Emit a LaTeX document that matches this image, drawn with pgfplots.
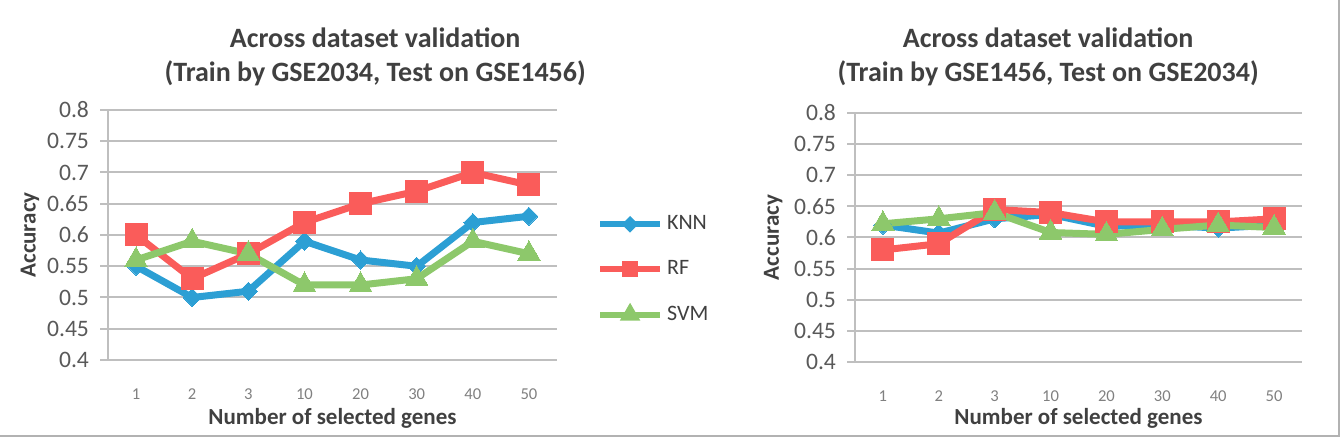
\documentclass[border=0pt]{standalone}
\usepackage{fontspec}
\setmainfont{Carlito}
\usepackage{pgfplots}
\pgfplotsset{compat=1.18}
\definecolor{knn}{HTML}{2C9FD4}
\definecolor{rf}{HTML}{FA5C5A}
\definecolor{svm}{HTML}{8DC86B}
\definecolor{gridc}{HTML}{BFBFBF}
\definecolor{txt}{HTML}{404040}
\definecolor{tick}{HTML}{595959}
\definecolor{xtick}{HTML}{808080}
\pgfdeclareplotmark{sqdiamond*}{%
  \pgfpathmoveto{\pgfqpoint{0pt}{1.41\pgfplotmarksize}}%
  \pgfpathlineto{\pgfqpoint{1.41\pgfplotmarksize}{0pt}}%
  \pgfpathlineto{\pgfqpoint{0pt}{-1.41\pgfplotmarksize}}%
  \pgfpathlineto{\pgfqpoint{-1.41\pgfplotmarksize}{0pt}}%
  \pgfpathclose
  \pgfusepathqfillstroke}
\pgfplotsset{
  acc/.style={
    scale only axis,
    anchor=south west,
    xmin=-0.5, xmax=7.5, ymin=0.4, ymax=0.8,
    xtick={0,1,2,3,4,5,6,7},
    xticklabels={1,2,3,10,20,30,40,50},
    ytick={0.4,0.45,0.5,0.55,0.6,0.65,0.7,0.75,0.8},
    /pgf/number format/assume math mode=true,
    axis x line*=bottom, axis y line*=left,
    axis line style={gridc, line width=1pt, -},
    ymajorgrids, grid style={gridc, line width=1pt},
    xtick style={draw=none},
    ytick style={gridc, line width=1pt},
    tick align=outside, major tick length=4pt,
    xticklabel style={font=\fontsize{8.3}{10}\selectfont, text=xtick, yshift=-7pt},
    yticklabel style={font=\fontsize{11.8}{14}\selectfont, text=tick, xshift=-2pt},
    xlabel={Number of selected genes},
    ylabel={Accuracy},
    label style={font=\bfseries\fontsize{11.5}{14}\selectfont, text=txt},
    title style={font=\bfseries\fontsize{14}{16.8}\selectfont, text=txt, align=center, anchor=center},
    every axis plot/.append style={line width=3.5pt},
    legend image code/.code={\draw[mark repeat=2,mark phase=2,#1] plot coordinates {(0pt,0pt) (15pt,0pt) (30pt,0pt)};},
    legend image post style={line width=3pt, mark options={scale=0.45}},
  },
  knnp/.style={knn, mark=sqdiamond*, mark size=3.2pt, mark options={fill=knn, draw=knn, line width=0pt}},
  rfp/.style={rf, mark=square*, mark size=5.5pt, mark options={fill=rf, draw=rf, line width=0pt}},
  svmp/.style={svm, mark=triangle*, mark size=6.5pt, mark options={fill=svm, draw=svm, line width=0pt}},
}
\begin{document}
\begin{tikzpicture}
\useasboundingbox (0,0) rectangle (672pt,219pt);
\begin{axis}[acc, at={(54pt,39pt)}, width=224.5pt, height=125pt,
  title={Across dataset validation\\(Train by GSE2034, Test on GSE1456)},
  title style={at={(0.595,1.165)}},
  xlabel style={at={(0.5,-0.232)}, anchor=center},
  ylabel style={at={(-0.174,0.5)}, anchor=center},
  legend style={at={(1.075,0.362)}, anchor=west, draw=none, fill=none,
    font=\fontsize{11}{13}\selectfont, text=txt, row sep=10pt},
  legend cell align=left]
\addplot[knnp] coordinates {(0,0.55) (1,0.50) (2,0.51) (3,0.59) (4,0.56) (5,0.55) (6,0.62) (7,0.63)};
\addlegendentry{KNN}
\addplot[rfp] coordinates {(0,0.60) (1,0.53) (2,0.57) (3,0.62) (4,0.65) (5,0.67) (6,0.70) (7,0.68)};
\addlegendentry{RF}
\addplot[svmp] coordinates {(0,0.56) (1,0.59) (2,0.57) (3,0.52) (4,0.52) (5,0.53) (6,0.59) (7,0.57)};
\addlegendentry{SVM}
\end{axis}
\begin{axis}[acc, at={(427.5pt,38pt)}, width=223.5pt, height=124.5pt,
  title={Across dataset validation\\(Train by GSE1456, Test on GSE2034)},
  title style={at={(0.432,1.178)}},
  xlabel style={at={(0.5,-0.225)}, anchor=center},
  ylabel style={at={(-0.183,0.5)}, anchor=center}]
\addplot[knnp] coordinates {(0,0.62) (1,0.607) (2,0.63) (3,0.637) (4,0.618) (5,0.62) (6,0.615) (7,0.62)};
\addplot[rfp] coordinates {(0,0.58) (1,0.59) (2,0.645) (3,0.64) (4,0.625) (5,0.625) (6,0.625) (7,0.63)};
\addplot[svmp] coordinates {(0,0.622) (1,0.63) (2,0.64) (3,0.608) (4,0.605) (5,0.613) (6,0.62) (7,0.616)};
\end{axis}
\draw[gridc!80!gray, line width=1pt] (0,1pt) -- (669.5pt,1pt) -- (669.5pt,219pt);
\end{tikzpicture}
\end{document}
